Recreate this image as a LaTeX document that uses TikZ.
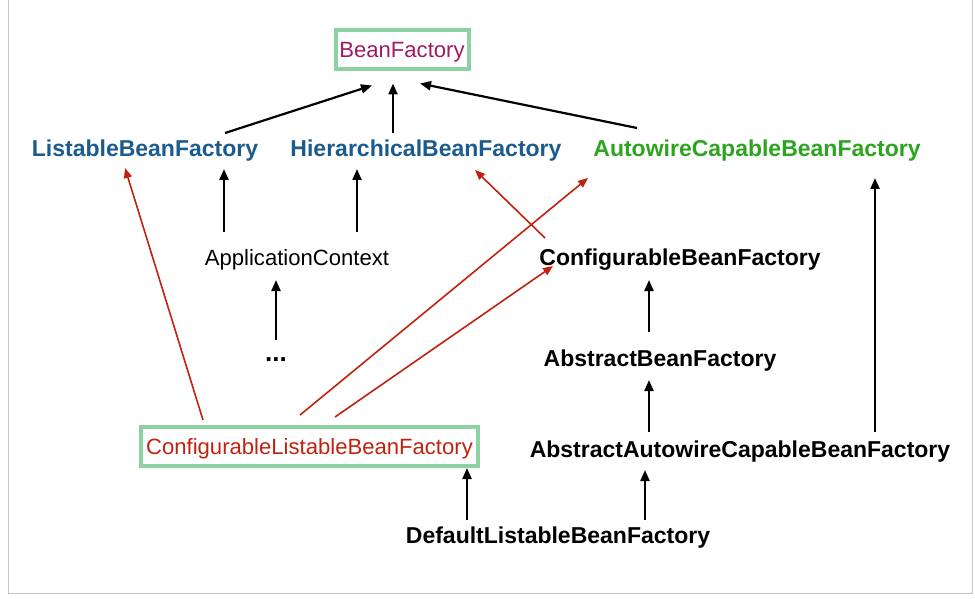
\documentclass[tikz,border=0pt]{standalone}
\usepackage{fontspec}
\setmainfont{Liberation Sans}
\usepackage{tikz}
\usetikzlibrary{arrows.meta}
\usepackage{xcolor}
\definecolor{bfmagenta}{HTML}{A01A62}
\definecolor{ifblue}{HTML}{1B5B8E}
\definecolor{ifgreen}{HTML}{2DA41F}
\definecolor{clred}{HTML}{C1220F}
\definecolor{boxgreen}{HTML}{8ED1A3}

\begin{document}
\begin{tikzpicture}[x=1pt, y=-1pt,
    every node/.style={font=\fontsize{22.1}{27}\selectfont, inner sep=0pt, outer sep=0pt, text height=19pt, text depth=3pt},
    iface/.style={font=\fontsize{23}{27}\selectfont\bfseries},
    greenbox/.style={draw=boxgreen, line width=4pt, minimum height=39pt},
    imp/.style={-{Triangle[length=11pt,width=9pt]}, line width=2.2pt},
    redimp/.style={-{Triangle[length=10pt,width=8pt]}, line width=1.6pt, draw=clred}]
    \useasboundingbox (0,0) rectangle (975,599);
    \draw[gray!45, line width=1pt] (8,0)--(8,593)--(972,593)--(972,0);

    \node[greenbox, minimum width=133pt, text=bfmagenta] (bf) at (402,50) {BeanFactory};
    \node[iface, text=ifblue] (lbf) at (145,149) {ListableBeanFactory};
    \node[iface, text=ifblue] (hbf) at (426,149) {HierarchicalBeanFactory};
    \node[iface, text=ifgreen] (acbf) at (757,149) {AutowireCapableBeanFactory};
    \node (ac) at (297,257) {ApplicationContext};
    \node[iface] (cbf) at (680,257) {ConfigurableBeanFactory};
    \node[iface, font=\fontsize{26}{27}\selectfont\bfseries] (dots) at (276,353) {...};
    \node[iface] (abf) at (660,358) {AbstractBeanFactory};
    \node[greenbox, minimum width=337pt, text=clred] (clbf) at (309.5,446.5) {ConfigurableListableBeanFactory};
    \node[iface] (aacbf) at (740,449) {AbstractAutowireCapableBeanFactory};
    \node[iface] (dlbf) at (558,535) {DefaultListableBeanFactory};

    \begin{scope}
    \draw[imp] ([xshift=80pt,yshift=5pt]lbf.north) -- ([xshift=-30pt,yshift=-16pt]bf.south);
    \draw[imp] ([xshift=-33pt,yshift=5pt]hbf.north) -- ([xshift=-9pt,yshift=-14pt]bf.south);
    \draw[imp] ([xshift=-120pt,yshift=10pt]acbf.north) -- ([xshift=18pt,yshift=-14pt]bf.south);
    \draw[imp] ([xshift=-73pt,yshift=14pt]ac.north) -- ([xshift=79pt,yshift=-9pt]lbf.south);
    \draw[imp] ([xshift=60pt,yshift=14pt]ac.north) -- ([xshift=-69pt,yshift=-9pt]hbf.south);
    \draw[imp] ([yshift=2pt]dots.north) -- ([xshift=-21pt,yshift=-12pt]ac.south);
    \draw[imp] ([xshift=-11pt,yshift=15pt]abf.north) -- ([xshift=-31pt,yshift=-12pt]cbf.south);
    \draw[imp] ([xshift=-91pt,yshift=6pt]aacbf.north) -- ([xshift=-11pt,yshift=-11pt]abf.south);
    \draw[imp] ([xshift=135pt,yshift=6pt]aacbf.north) -- ([xshift=118pt,yshift=-18pt]acbf.south);
    \draw[imp] ([xshift=-91pt,yshift=4pt]dlbf.north) -- ([xshift=157.5pt,yshift=-2pt]clbf.south);
    \draw[imp] ([xshift=87pt,yshift=4pt]dlbf.north) -- ([xshift=-95pt,yshift=-10pt]aacbf.south);
    \end{scope}
    \begin{scope}
    \draw[redimp] ([xshift=-106.5pt,yshift=7pt]clbf.north) -- ([xshift=-20pt,yshift=-8pt]lbf.south);
    \draw[redimp] ([xshift=-9.5pt,yshift=12pt]clbf.north) -- ([xshift=-169pt,yshift=-18pt]acbf.south);
    \draw[redimp] ([xshift=25.5pt,yshift=10pt]clbf.north) -- ([xshift=-127pt,yshift=2pt]cbf.south);
    \draw[redimp] ([xshift=-135pt,yshift=8pt]cbf.north) -- ([xshift=49pt,yshift=-10pt]hbf.south);
    \end{scope}
\end{tikzpicture}
\end{document}
